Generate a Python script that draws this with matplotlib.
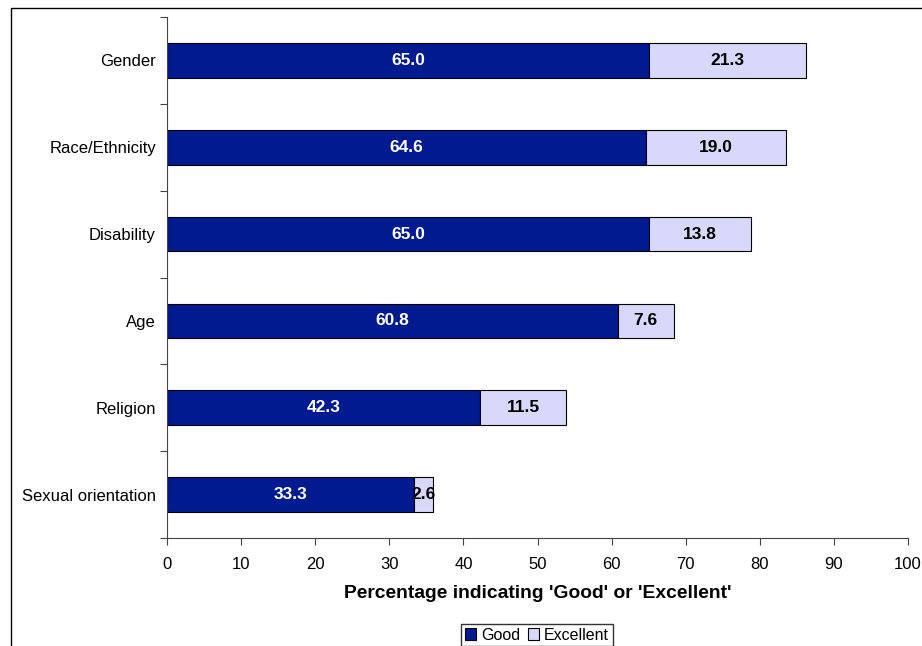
import matplotlib
matplotlib.use('Agg')
import matplotlib.pyplot as plt
from matplotlib.patches import Rectangle, Patch
import numpy as np

plt.rcParams['font.family'] = ['Liberation Sans', 'DejaVu Sans']

categories = ['Gender', 'Race/Ethnicity', 'Disability', 'Age', 'Religion', 'Sexual orientation']
good = [65.0, 64.6, 65.0, 60.8, 42.3, 33.3]
excellent = [21.3, 19.0, 13.8, 7.6, 11.5, 2.6]
xticks = [0, 10, 20, 30, 40, 50, 60, 70, 80, 90, 100]

navy = '#001A8F'
lilac = '#D8D8FA'

fig = plt.figure(figsize=(9.22, 6.46), dpi=100)
ax = fig.add_axes([167 / 922, 1 - 538 / 646, 741 / 922, 521 / 646])

# outer chart-area frame (right and bottom edges run off the page)
fig.patches.append(Rectangle((10.5 / 922, -0.2), 2.0, 1.2 - 7.5 / 646,
                             transform=fig.transFigure, fill=False,
                             edgecolor='black', linewidth=1.0))

y = np.arange(len(categories))[::-1]
h = 0.4
ax.barh(y, good, height=h, color=navy, edgecolor='black', linewidth=0.8)
ax.barh(y, excellent, left=good, height=h, color=lilac, edgecolor='black', linewidth=0.8)

for yy, g, e in zip(y, good, excellent):
    ax.text(g / 2, yy, f'{g:.1f}', ha='center', va='center', color='white',
            fontsize=12.5, fontweight='bold')
    ax.text(g + e / 2, yy, f'{e:.1f}', ha='center', va='center', color='black',
            fontsize=12.5, fontweight='bold')

ax.set_xlim(0, 100)
ax.set_ylim(-0.5, len(categories) - 0.5)
ax.set_xticks(xticks)
ax.set_xticklabels([str(t) for t in xticks], fontsize=12)
ax.set_yticks(y)
ax.set_yticklabels(categories, fontsize=12)
ax.tick_params(axis='y', length=0, pad=8)
ax.set_yticks(np.arange(len(categories) + 1) - 0.5, minor=True)
ax.tick_params(axis='y', which='minor', length=5, width=0.8, color='#444444')
ax.tick_params(axis='x', length=5, width=0.8, color='#444444', pad=9)

for s in ['top', 'right']:
    ax.spines[s].set_visible(False)
for s in ['left', 'bottom']:
    ax.spines[s].set_color('#444444')
    ax.spines[s].set_linewidth(0.8)

ax.set_xlabel("Percentage indicating 'Good' or 'Excellent'", fontsize=13.9,
              fontweight='bold', labelpad=9)

handles = [Patch(facecolor=navy, edgecolor='black', linewidth=0.8, label='Good'),
           Patch(facecolor=lilac, edgecolor='black', linewidth=0.8, label='Excellent')]
fig.legend(handles=handles, loc='center', bbox_to_anchor=(537 / 922, 1 - 635 / 646),
           ncol=2, frameon=True, fancybox=False, edgecolor='black', fontsize=11.5,
           handlelength=0.7, handleheight=0.7, handletextpad=0.3, columnspacing=0.5,
           borderpad=0.25, borderaxespad=0)

fig.savefig('out.png', dpi=100)
